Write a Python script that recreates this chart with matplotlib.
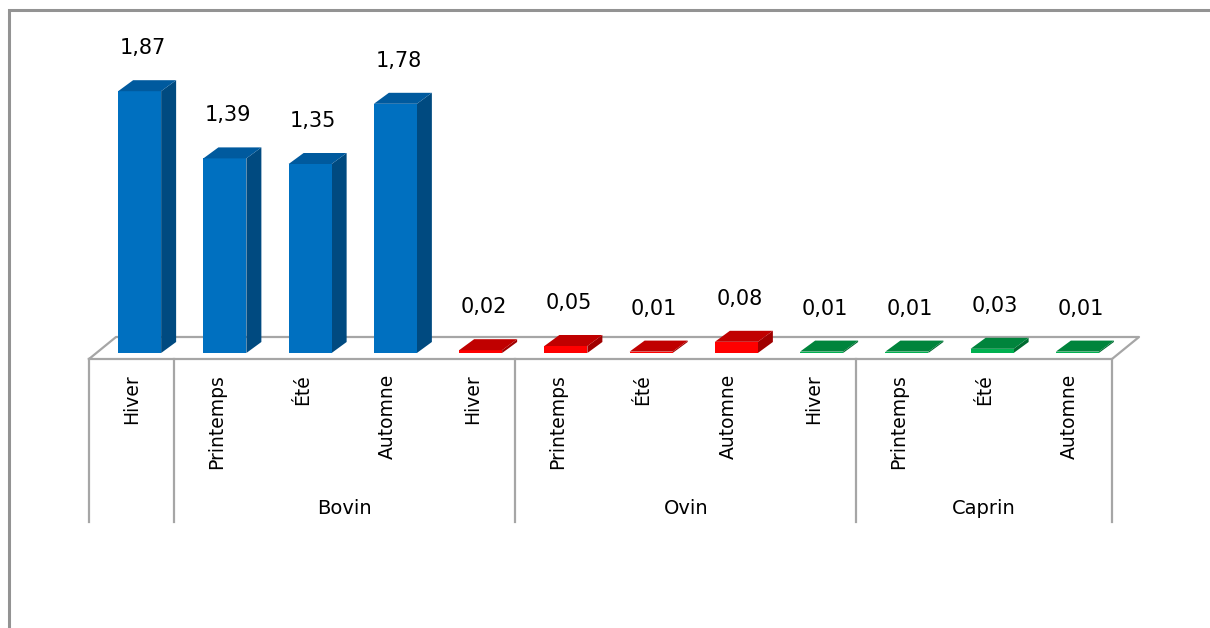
import matplotlib.pyplot as plt
from matplotlib.patches import Polygon, Rectangle

plt.rcParams['font.family'] = ['DejaVu Sans']

seasons = ['Hiver', 'Printemps', 'Été', 'Automne']
groups = ['Bovin', 'Ovin', 'Caprin']
bovin = [1.87, 1.39, 1.35, 1.78]
ovin = [0.02, 0.05, 0.01, 0.08]
caprin = [0.01, 0.01, 0.03, 0.01]
value_labels = ['1,87', '1,39', '1,35', '1,78', '0,02', '0,05', '0,01', '0,08',
                '0,01', '0,01', '0,03', '0,01']

# face colours (front, top, side) per group
palette = {
    'Bovin': ('#0070C0', '#005A9E', '#004A80'),
    'Ovin': ('#FF0000', '#C00000', '#A00000'),
    'Caprin': ('#00B050', '#00843C', '#006B30'),
}

values = bovin + ovin + caprin
group_of = [g for g in groups for _ in seasons]
cats = seasons * len(groups)
n = len(values)

fig = plt.figure(figsize=(12.1, 6.28), dpi=100)
W, H = 1210, 628
# axes: x from floor front-left to front-right, y = 0 at floor front edge
ax = fig.add_axes([89 / W, (H - 359) / H, 1023 / W, 280 / H])
ax.set_xlim(-0.5, n - 0.5)
ax.set_ylim(0, 2.0)
ax.axis('off')

# pixel -> data helpers
sx = n / 1023.0
sy = 2.0 / 280.0

# outer chart border (only top and left edges fall inside the image)
fig.patches.append(Rectangle((9 / W, -0.1), 1.2, (H - 10) / H + 0.1,
                             transform=fig.transFigure, fill=False,
                             edgecolor='#939393', lw=2.2))

# floor parallelogram
fdx, fdy = 27 * sx, 22 * sy
grey = '#A6A6A6'
x0, x1 = -0.5, n - 0.5
ax.plot([x0, x1, x1 + fdx, x0 + fdx, x0], [0, 0, fdy, fdy, 0],
        color=grey, lw=1.6, clip_on=False, zorder=1)

# bars
bw = 43 * sx
ox, oy = 8 * sx, 6 * sy      # front face shift inside the floor
ddx, ddy = 15 * sx, 11 * sy  # bar depth
for i, v in enumerate(values):
    front, top, side = palette[group_of[i]]
    l = i - bw / 2 + ox
    r = i + bw / 2 + ox
    b = oy
    t = oy + v
    ax.add_patch(Polygon([(r, b), (r + ddx, b + ddy), (r + ddx, t + ddy), (r, t)],
                         closed=True, facecolor=side, edgecolor='none',
                         clip_on=False, zorder=3))
    ax.add_patch(Rectangle((l, b), bw, v, facecolor=front, edgecolor='none',
                           clip_on=False, zorder=3))
    ax.add_patch(Polygon([(l, t), (r, t), (r + ddx, t + ddy), (l + ddx, t + ddy)],
                         closed=True, facecolor=top, edgecolor='none',
                         clip_on=False, zorder=4))
    ax.text(i + ox + 3 * sx, t + ddy + 32 * sy, value_labels[i],
            ha='center', va='center', fontsize=15, color='black')

# category labels
for i, c in enumerate(cats):
    ax.text(i, -15 * sy, c, rotation=90, ha='center', va='top',
            fontsize=13.5, color='black')

# group separators and labels
edges = [-0.5] + [0.5 + len(seasons) * g for g in range(len(groups))] + [n - 0.5]
for e in edges:
    ax.plot([e, e], [0, -163 * sy], color=grey, lw=1.6, clip_on=False, zorder=1)
for g, name in enumerate(groups):
    mid = (edges[g + 1] + edges[g + 2]) / 2
    ax.text(mid, -149 * sy, name, ha='center', va='center', fontsize=14,
            color='black')

fig.savefig('out.png', dpi=100)
